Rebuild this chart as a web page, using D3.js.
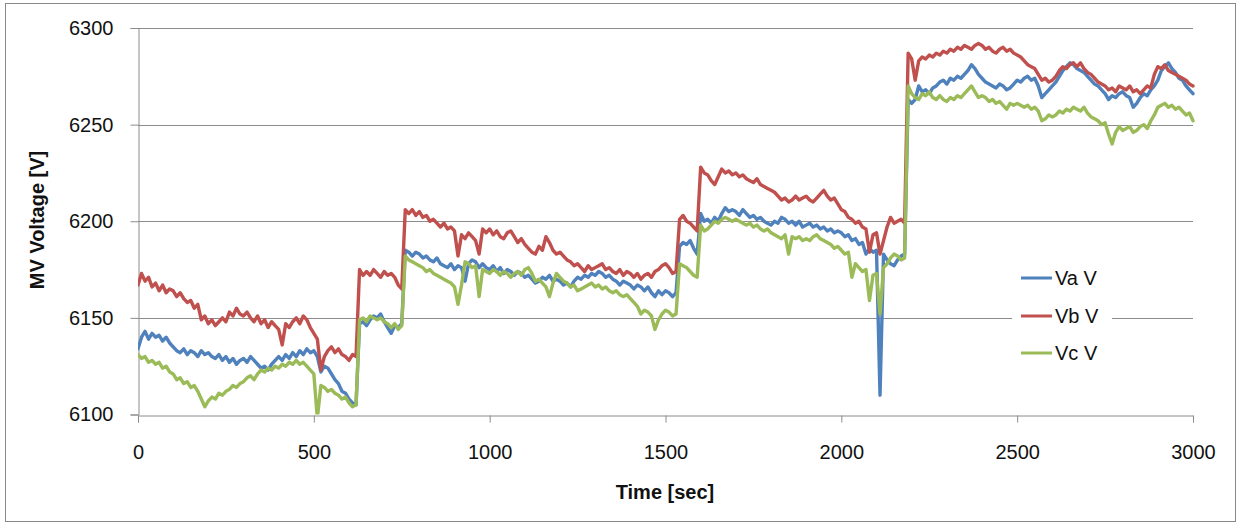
<!DOCTYPE html>
<html>
<head>
<meta charset="utf-8">
<script src="https://cdn.jsdelivr.net/npm/d3@7"></script>
<style>
  html, body { margin: 0; padding: 0; background: #ffffff; }
  svg { display: block; font-family: "Liberation Sans", Arial, sans-serif; }
</style>
</head>
<body>
<svg id="chart" width="1242" height="528"></svg>
<script>
// Sampling: one reading every 10 s, from 0 s to 3000 s
const timeStep = 10;
const timeEnd = 3000;

// Phase A voltage (V)
const va = [
  6134, 6140, 6143, 6139, 6142, 6140, 6141, 6138, 6140, 6137,
  6135, 6133, 6132, 6134, 6131, 6133, 6132, 6130, 6133, 6131,
  6132, 6130, 6129, 6131, 6128, 6130, 6127, 6129, 6126, 6128,
  6129, 6127, 6130, 6128, 6126, 6124, 6125, 6123, 6126, 6128,
  6130, 6128, 6131, 6129, 6132, 6130, 6133, 6131, 6134, 6132,
  6133, 6130, 6122, 6125, 6124, 6121, 6118, 6116, 6112, 6111,
  6108, 6106, 6105, 6147, 6148, 6146, 6149, 6151, 6150, 6152,
  6148, 6145, 6142, 6146, 6145, 6147, 6185, 6184, 6182, 6184,
  6183, 6181, 6182, 6180, 6179, 6181, 6178, 6177, 6176, 6178,
  6175, 6177, 6176, 6169, 6178, 6180, 6179, 6176, 6178, 6176,
  6175, 6177, 6174, 6176, 6173, 6175, 6174, 6172, 6174, 6173,
  6171, 6172, 6170, 6168, 6169, 6171, 6170, 6172, 6169, 6170,
  6169, 6167, 6168, 6166, 6169, 6171, 6170, 6172, 6171, 6173,
  6172, 6174, 6173, 6171, 6172, 6170, 6169, 6167, 6169, 6168,
  6167, 6165, 6167, 6166, 6164, 6166, 6163, 6161, 6164, 6162,
  6164, 6163, 6161, 6163, 6187, 6189, 6188, 6190, 6186, 6183,
  6204, 6200, 6201, 6199, 6202, 6200, 6204, 6207, 6205, 6206,
  6205, 6203, 6206, 6204, 6202, 6203, 6201, 6202, 6200, 6199,
  6198, 6200, 6199, 6202, 6201, 6199, 6200, 6198, 6200, 6197,
  6198, 6199, 6197, 6198, 6196, 6197, 6195, 6196, 6194, 6195,
  6194, 6192, 6193, 6190, 6191, 6188, 6189, 6183, 6186, 6184,
  6185, 6110, 6183, 6180, 6178, 6177, 6180, 6182, 6183, 6263,
  6261, 6263, 6270, 6267, 6268, 6266, 6269, 6270, 6272, 6273,
  6271, 6274, 6273, 6275, 6274, 6276, 6278, 6281, 6279, 6276,
  6274, 6272, 6271, 6270, 6269, 6271, 6270, 6268, 6269, 6271,
  6273, 6272, 6274, 6275, 6273, 6274, 6270, 6264, 6266, 6268,
  6270, 6272, 6275, 6278, 6280, 6282, 6281, 6279, 6278, 6277,
  6275, 6273, 6271, 6270, 6268, 6266, 6263, 6265, 6264, 6266,
  6267, 6265, 6264, 6259, 6261, 6264, 6266, 6265, 6268, 6270,
  6273, 6278, 6280, 6282, 6279, 6277, 6274, 6273, 6270, 6268,
  6266
];

// Phase B voltage (V)
const vb = [
  6167, 6173, 6169, 6171, 6166, 6168, 6164, 6167, 6163, 6165,
  6164, 6161, 6163, 6160, 6158, 6159, 6155, 6157, 6149, 6151,
  6147, 6149, 6146, 6148, 6150, 6148, 6153, 6151, 6155, 6152,
  6151, 6153, 6150, 6148, 6151, 6147, 6149, 6145, 6148, 6146,
  6144, 6136, 6147, 6145, 6148, 6150, 6147, 6151, 6149, 6145,
  6142, 6139, 6123, 6130, 6133, 6135, 6132, 6134, 6131, 6130,
  6128, 6131, 6130, 6175, 6172, 6174, 6172, 6175, 6173, 6171,
  6174, 6172, 6173, 6171, 6167, 6165, 6206, 6204, 6206, 6203,
  6205, 6202, 6203, 6200, 6201, 6199, 6197, 6199, 6196, 6197,
  6195, 6182, 6193, 6191, 6194, 6192, 6190, 6183, 6196, 6194,
  6196, 6193, 6195, 6192, 6191, 6194, 6195, 6192, 6189, 6191,
  6188, 6186, 6184, 6183, 6187, 6185, 6192, 6189, 6185, 6183,
  6184, 6182, 6180, 6179, 6177, 6178, 6176, 6174, 6177, 6175,
  6176, 6177, 6178, 6175, 6176, 6174, 6173, 6175, 6172, 6174,
  6173, 6171, 6173, 6170, 6172, 6173, 6171, 6174, 6175, 6177,
  6178, 6176, 6173, 6174, 6201, 6203, 6200, 6199, 6197, 6195,
  6228, 6225, 6224, 6221, 6219, 6223, 6227, 6225, 6226, 6224,
  6225, 6223, 6224, 6222, 6221, 6220, 6222, 6219, 6218, 6217,
  6216, 6215, 6213, 6211, 6212, 6210, 6211, 6213, 6211, 6212,
  6213, 6211, 6210, 6212, 6214, 6216, 6213, 6211, 6212, 6209,
  6206, 6205, 6202, 6201, 6199, 6200, 6197, 6196, 6184, 6193,
  6194, 6183, 6190, 6197, 6202, 6199, 6200, 6201, 6199, 6287,
  6284, 6273, 6283, 6285, 6284, 6286, 6285, 6287, 6286, 6288,
  6287, 6289, 6288, 6290, 6289, 6291, 6290, 6289, 6291, 6292,
  6291, 6289, 6290, 6288, 6287, 6289, 6290, 6288, 6289, 6287,
  6286, 6285, 6283, 6281, 6280, 6279, 6276, 6273, 6274, 6272,
  6273, 6275, 6278, 6280, 6279, 6281, 6282, 6280, 6282, 6279,
  6277, 6276, 6274, 6272, 6271, 6270, 6268, 6269, 6267, 6270,
  6269, 6268, 6270, 6267, 6268, 6266, 6268, 6270, 6269, 6276,
  6280, 6279, 6281, 6278, 6277, 6276, 6275, 6274, 6273, 6271,
  6270
];

// Phase C voltage (V)
const vc = [
  6131, 6129, 6130, 6127, 6128, 6126, 6127, 6124, 6125, 6122,
  6121, 6118, 6119, 6116, 6117, 6114, 6115, 6112, 6108, 6104,
  6107, 6109, 6108, 6111, 6110, 6112, 6113, 6115, 6114, 6116,
  6117, 6119, 6120, 6118, 6121, 6123, 6122, 6124, 6123, 6125,
  6124, 6126, 6125, 6127, 6126, 6128, 6126, 6127, 6125, 6123,
  6121, 6098, 6115, 6114, 6112, 6113, 6111, 6110, 6108, 6109,
  6106, 6104, 6105, 6149, 6150, 6148, 6151, 6150, 6149, 6150,
  6148, 6147, 6145, 6147, 6144, 6146, 6182, 6180, 6179, 6178,
  6177, 6176, 6174, 6175, 6173, 6172, 6171, 6170, 6169, 6168,
  6166, 6157, 6167, 6179, 6178, 6176, 6177, 6161, 6175, 6174,
  6173, 6175, 6174, 6172, 6174, 6173, 6171, 6173, 6174, 6172,
  6175, 6176, 6173, 6169, 6170, 6168, 6166, 6161, 6168, 6173,
  6171, 6169, 6168, 6166, 6167, 6164, 6165, 6166, 6167, 6168,
  6166, 6167, 6165, 6166, 6164, 6163, 6164, 6162, 6161, 6162,
  6160, 6158, 6156, 6152, 6154, 6153, 6151, 6144, 6149, 6152,
  6154, 6153, 6151, 6152, 6178, 6177, 6176, 6174, 6172, 6171,
  6198, 6195, 6196, 6198, 6200, 6199, 6201, 6202, 6201, 6200,
  6201, 6200, 6199, 6198, 6199, 6197, 6198, 6196, 6195, 6196,
  6194, 6193, 6192, 6191, 6193, 6183, 6192, 6191, 6192, 6190,
  6191, 6190, 6192, 6193, 6191, 6190, 6189, 6188, 6186, 6187,
  6185, 6183, 6184, 6171, 6178, 6176, 6174, 6175, 6159, 6172,
  6173, 6152, 6176, 6178, 6181, 6183, 6182, 6180, 6181, 6270,
  6266, 6264, 6263, 6266, 6265, 6267, 6264, 6263, 6265, 6263,
  6262, 6264, 6263, 6265, 6264, 6266, 6268, 6270, 6267, 6264,
  6265, 6264, 6262, 6263, 6261, 6262, 6260, 6258, 6261, 6260,
  6261, 6260, 6259, 6260, 6258, 6259, 6257, 6252, 6253, 6255,
  6254, 6255, 6257, 6256, 6258, 6257, 6259, 6258, 6257, 6259,
  6256, 6254, 6253, 6252, 6250, 6251, 6245, 6240, 6246, 6249,
  6247, 6248, 6249, 6246, 6247, 6249, 6250, 6248, 6252, 6255,
  6259, 6260, 6261, 6259, 6260, 6258, 6259, 6257, 6255, 6256,
  6252
];

const seriesNames = ["Va V", "Vb V", "Vc V"];
const seriesColors = ["#4f81bd", "#c0504d", "#9bbb59"];
const xTicks = [0, 500, 1000, 1500, 2000, 2500, 3000];
const yTicks = [6100, 6150, 6200, 6250, 6300];
const xTitle = "Time [sec]";
const yTitle = "MV Voltage [V]";

const svg = d3.select("#chart");
const plot = { left: 138, right: 1193, top: 28, bottom: 414.5 };

// Outer chart frame
svg.append("rect")
  .attr("x", 5.5).attr("y", 3.5)
  .attr("width", 1230).attr("height", 518)
  .attr("fill", "#ffffff")
  .attr("stroke", "#888888").attr("stroke-width", 1);

const x = d3.scaleLinear().domain([0, timeEnd]).range([plot.left, plot.right]);
const y = d3.scaleLinear().domain([6100, 6300]).range([plot.bottom, plot.top]);

const gridColor = "#8c8c8c";

// Horizontal gridlines
svg.append("g")
  .selectAll("line")
  .data(yTicks.filter(v => v !== 6100))
  .join("line")
  .attr("x1", plot.left).attr("x2", plot.right)
  .attr("y1", d => Math.round(y(d)) + 0.5).attr("y2", d => Math.round(y(d)) + 0.5)
  .attr("stroke", gridColor).attr("stroke-width", 1);

// Y axis
const yAxis = svg.append("g")
  .attr("transform", `translate(${plot.left + 0.5},0)`)
  .call(d3.axisLeft(y).tickValues(yTicks).tickSize(8).tickPadding(17).tickFormat(d3.format("d")));
yAxis.select(".domain").attr("stroke", gridColor);
yAxis.selectAll(".tick line").attr("stroke", gridColor);
yAxis.selectAll(".tick text")
  .attr("font-size", 20).attr("fill", "#111")
  .attr("font-family", "Liberation Sans, Arial, sans-serif");

// X axis
const xAxis = svg.append("g")
  .attr("transform", `translate(0,${Math.round(plot.bottom) + 0.5})`)
  .call(d3.axisBottom(x).tickValues(xTicks).tickSize(7).tickPadding(22).tickFormat(d3.format("d")));
xAxis.select(".domain").attr("stroke", gridColor);
xAxis.selectAll(".tick line").attr("stroke", gridColor);
xAxis.selectAll(".tick text")
  .attr("font-size", 20).attr("fill", "#111")
  .attr("font-family", "Liberation Sans, Arial, sans-serif");

// Axis titles
svg.append("text")
  .attr("x", 665).attr("y", 499)
  .attr("text-anchor", "middle")
  .attr("font-size", 20).attr("font-weight", "bold").attr("fill", "#111")
  .text(xTitle);

svg.append("text")
  .attr("transform", "translate(44,220) rotate(-90)")
  .attr("text-anchor", "middle")
  .attr("font-size", 20).attr("font-weight", "bold").attr("fill", "#111")
  .text(yTitle);

// Clip the traces to the plot area
svg.append("defs").append("clipPath").attr("id", "plotClip")
  .append("rect")
  .attr("x", plot.left).attr("y", plot.top - 5)
  .attr("width", plot.right - plot.left + 3)
  .attr("height", plot.bottom - plot.top + 5);

const line = d3.line()
  .x((d, i) => x(i * timeStep))
  .y(d => y(d));

const traces = svg.append("g").attr("clip-path", "url(#plotClip)");
[va, vb, vc].forEach((values, k) => {
  traces.append("path")
    .datum(values)
    .attr("d", line)
    .attr("fill", "none")
    .attr("stroke", seriesColors[k])
    .attr("stroke-width", 3.4)
    .attr("stroke-linejoin", "round")
    .attr("stroke-linecap", "round");
});

// Legend
const legend = svg.append("g");
legend.append("rect")
  .attr("x", 1012).attr("y", 258)
  .attr("width", 100).attr("height", 114)
  .attr("fill", "#ffffff");
const legendY = [278, 316, 353];
seriesNames.forEach((name, k) => {
  legend.append("line")
    .attr("x1", 1021).attr("x2", 1052)
    .attr("y1", legendY[k]).attr("y2", legendY[k])
    .attr("stroke", seriesColors[k]).attr("stroke-width", 3);
  legend.append("text")
    .attr("x", 1055).attr("y", legendY[k] + 7)
    .attr("font-size", 20).attr("fill", "#111")
    .text(name);
});
</script>
</body>
</html>
